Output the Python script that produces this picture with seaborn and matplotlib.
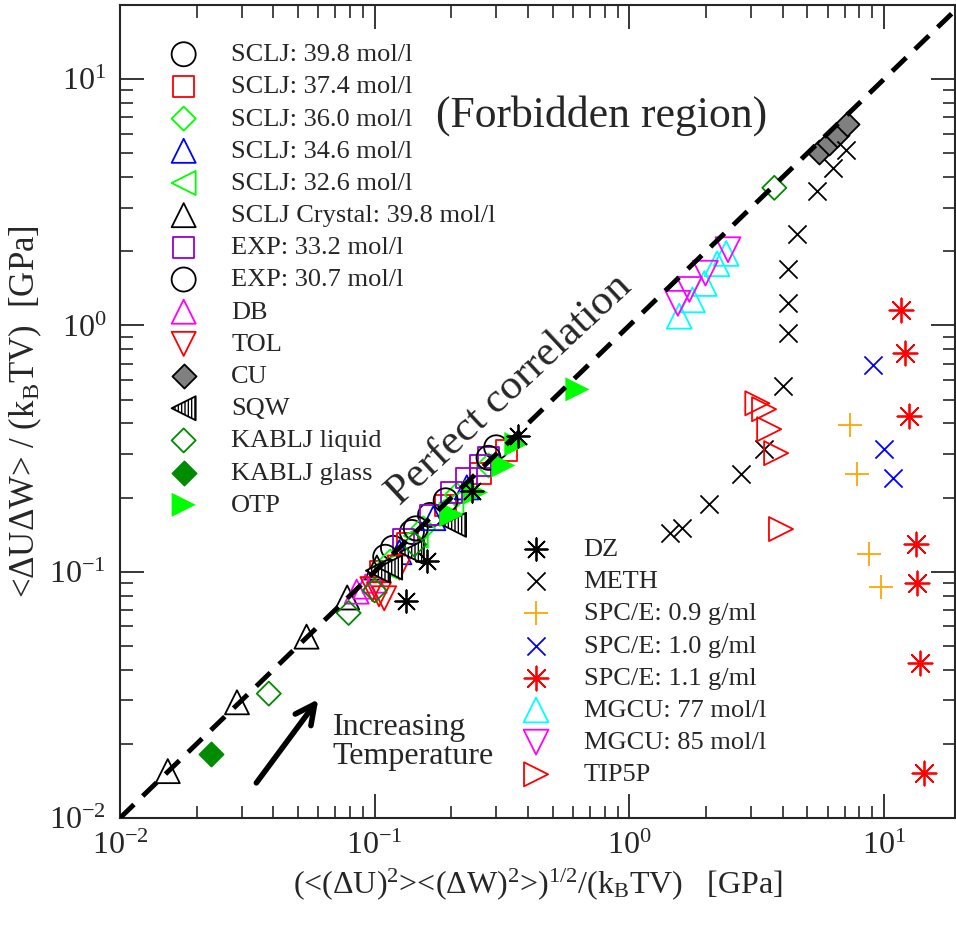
import matplotlib
matplotlib.use("Agg")
import matplotlib.pyplot as plt
import seaborn as sns
import pandas as pd
import numpy as np

# ---- data ----
sclj_398_x = [0.118, 0.14, 0.165, 0.30]
sclj_398_y = [0.125, 0.145, 0.17, 0.32]
sclj_374_x = [0.105, 0.135, 0.19, 0.26, 0.33]
sclj_374_y = [0.10, 0.13, 0.185, 0.25, 0.31]
sclj_360_x = [0.115, 0.155, 0.21, 0.28]
sclj_360_y = [0.11, 0.15, 0.205, 0.27]
sclj_346_x = [0.125, 0.17, 0.23]
sclj_346_y = [0.12, 0.165, 0.22]
sclj_326_x = [0.11, 0.145, 0.20]
sclj_326_y = [0.105, 0.14, 0.19]
crystal_x = [0.0154, 0.0288, 0.054, 0.078, 0.102]
crystal_y = [0.0155, 0.0295, 0.0545, 0.0786, 0.104]
exp_332_x = [0.13, 0.165, 0.20, 0.23, 0.26, 0.28]
exp_332_y = [0.135, 0.17, 0.21, 0.24, 0.27, 0.29]
exp_307_x = [0.11, 0.145, 0.19, 0.28]
exp_307_y = [0.115, 0.15, 0.195, 0.29]
db_x = [0.085, 0.092, 0.10]
db_y = [0.083, 0.087, 0.092]
tol_x = [0.098, 0.104, 0.109, 0.125]
tol_y = [0.085, 0.081, 0.078, 0.104]
cu_x = [5.56, 6.08, 6.54, 7.17]
cu_y = [5.06, 5.51, 5.93, 6.57]
sqw_x = [0.103, 0.115, 0.14, 0.205]
sqw_y = [0.101, 0.104, 0.12, 0.155]
kablj_liq_x = [0.0384, 0.079, 0.10, 0.143, 3.71]
kablj_liq_y = [0.032, 0.068, 0.084, 0.129, 3.62]
kablj_gls_x = [0.0228]
kablj_gls_y = [0.0182]
otp_x = [0.20, 0.25, 0.32, 0.36, 0.625]
otp_y = [0.17, 0.21, 0.27, 0.33, 0.55]

dz_x = [0.133, 0.160, 0.242, 0.364]
dz_y = [0.0764, 0.111, 0.213, 0.356]
meth_x = [7.10, 6.31, 5.46, 4.56, 4.21, 4.21, 4.21, 4.02, 3.38, 2.75, 2.06, 1.61, 1.44]
meth_y = [5.16, 4.36, 3.52, 2.36, 1.69, 1.23, 0.93, 0.566, 0.315, 0.249, 0.188, 0.151, 0.144]
spce09_x = [7.36, 7.84, 8.73, 9.72]
spce09_y = [0.394, 0.249, 0.118, 0.0869]
spce10_x = [9.06, 10.0, 10.8]
spce10_y = [0.689, 0.315, 0.240]
spce11_x = [11.7, 12.1, 12.5, 13.3, 13.5, 13.8, 14.4]
spce11_y = [1.15, 0.771, 0.428, 0.130, 0.0902, 0.0424, 0.0152]
mgcu77_x = [1.57, 1.77, 1.97, 2.21, 2.40]
mgcu77_y = [1.09, 1.27, 1.48, 1.78, 1.96]
mgcu85_x = [1.55, 1.72, 1.99, 2.44]
mgcu85_y = [1.23, 1.40, 1.63, 2.03]
tip5p_x = [3.18, 3.38, 3.54, 3.77, 3.94]
tip5p_y = [0.483, 0.457, 0.379, 0.303, 0.149]

# name, x, y, marker, size, face, edge
group1 = [
    ("SCLJ: 39.8 mol/l", sclj_398_x, sclj_398_y, "o", 300, "none", "black"),
    ("SCLJ: 37.4 mol/l", sclj_374_x, sclj_374_y, "s", 225, "none", "red"),
    ("SCLJ: 36.0 mol/l", sclj_360_x, sclj_360_y, "D", 150, "none", "#00ff00"),
    ("SCLJ: 34.6 mol/l", sclj_346_x, sclj_346_y, "^", 300, "none", "blue"),
    ("SCLJ: 32.6 mol/l", sclj_326_x, sclj_326_y, "<", 300, "none", "#00ff00"),
    ("SCLJ Crystal: 39.8 mol/l", crystal_x, crystal_y, "^", 300, "none", "black"),
    ("EXP: 33.2 mol/l", exp_332_x, exp_332_y, "s", 225, "none", "#9400d3"),
    ("EXP: 30.7 mol/l", exp_307_x, exp_307_y, "o", 300, "none", "black"),
    ("DB", db_x, db_y, "^", 300, "none", "magenta"),
    ("TOL", tol_x, tol_y, "v", 300, "none", "red"),
    ("CU", cu_x, cu_y, "D", 150, "grey", "black"),
    ("SQW", sqw_x, sqw_y, "<", 300, "white", "black"),
    ("KABLJ liquid", kablj_liq_x, kablj_liq_y, "D", 150, "none", "#008b00"),
    ("KABLJ glass", kablj_gls_x, kablj_gls_y, "D", 150, "#008b00", "#008b00"),
    ("OTP", otp_x, otp_y, ">", 300, "#00ff00", "none"),
]
# name, x, y, marker, size, color (line markers)
group2 = [
    ("DZ", dz_x, dz_y, (8, 2, 0), 260, "black"),
    ("METH", meth_x, meth_y, "x", 170, "black"),
    ("SPC/E: 0.9 g/ml", spce09_x, spce09_y, "+", 300, "orange"),
    ("SPC/E: 1.0 g/ml", spce10_x, spce10_y, "x", 170, "blue"),
    ("SPC/E: 1.1 g/ml", spce11_x, spce11_y, (8, 2, 0), 300, "red"),
    ("MGCU: 77 mol/l", mgcu77_x, mgcu77_y, "^", 320, "cyan"),
    ("MGCU: 85 mol/l", mgcu85_x, mgcu85_y, "v", 320, "magenta"),
    ("TIP5P", tip5p_x, tip5p_y, ">", 300, "red"),
]

sns.set_style("ticks")
plt.rcParams["font.family"] = ["Liberation Serif", "DejaVu Serif"]
plt.rcParams["mathtext.fontset"] = "custom"
plt.rcParams["mathtext.rm"] = "Liberation Serif"
plt.rcParams["mathtext.it"] = "Liberation Serif:italic"
plt.rcParams["mathtext.default"] = "regular"
plt.rcParams["hatch.linewidth"] = 1.0

fig = plt.figure(figsize=(9.56, 9.26), dpi=100)
ax = fig.add_axes([120 / 956, 108 / 926, 835 / 956, 813 / 926])
ax.set_xscale("log")
ax.set_yscale("log")

h1, h2 = [], []
for name, xs, ys, mk, sz, fc, ec in group1:
    df = pd.DataFrame({"x": xs, "y": ys})
    kw = dict(facecolor=fc, edgecolor=ec, linewidth=1.3)
    if name == "SQW":
        kw["hatch"] = "|||||"
    sns.scatterplot(data=df, x="x", y="y", marker=mk, s=sz, label=name,
                    legend=False, ax=ax, zorder=3, **kw)
    h1.append(ax.collections[-1])

for name, xs, ys, mk, sz, col in group2:
    df = pd.DataFrame({"x": xs, "y": ys})
    if mk in ("^", "v", ">"):
        kw = dict(facecolor="none", edgecolor=col, linewidth=1.3)
    else:
        kw = dict(color=col, linewidth=1.3)
    sns.scatterplot(data=df, x="x", y="y", marker=mk, s=sz, label=name,
                    legend=False, ax=ax, zorder=3, **kw)
    h2.append(ax.collections[-1])

# perfect correlation line
diag = np.array([0.01, 20.0])
ax.plot(diag, diag, color="black", lw=3.5, ls=(0, (4, 2.5)), zorder=4)

ax.set_xlim(0.01, 19)
ax.set_ylim(0.01, 20)

ax.text(0.775, 7.14, "(Forbidden region)", fontsize=31.5, ha="center", va="center")
ax.text(0.34, 0.545, "Perfect correlation", fontsize=31, rotation=43,
        rotation_mode="anchor", ha="center", va="center")
ax.text(0.0684, 0.0203, "Increasing\nTemperature", fontsize=23,
        ha="left", va="center", linespacing=1.0)
ax.annotate("", xy=(0.061, 0.031), xytext=(0.0338, 0.0136),
            arrowprops=dict(arrowstyle="->", lw=4, color="black", mutation_scale=35))

ax.set_xlabel(r"(<($\Delta$U)$^2$><($\Delta$W)$^2$>)$^{1/2}$/(k$_B$TV)   [GPa]", fontsize=23)
ax.set_ylabel(r"<$\Delta$U$\Delta$W> / (k$_B$TV)  [GPa]", fontsize=25)

for side in ax.spines.values():
    side.set_linewidth(1.5)
ax.tick_params(which="both", direction="in", top=True, right=True, labelsize=23)
ax.tick_params(which="major", length=17, width=1.3, pad=10)
ax.tick_params(which="minor", length=9, width=1.2)

leg1 = ax.legend(handles=h1, loc="upper left", bbox_to_anchor=(0.032, 0.9666),
                 borderaxespad=0, frameon=False, fontsize=19, labelspacing=0.33)
ax.add_artist(leg1)
ax.legend(handles=h2, loc="upper left", bbox_to_anchor=(0.454, 0.358),
          borderaxespad=0, frameon=False, fontsize=19, labelspacing=0.33)

fig.savefig("out.png", dpi=100)
plt.close(fig)
